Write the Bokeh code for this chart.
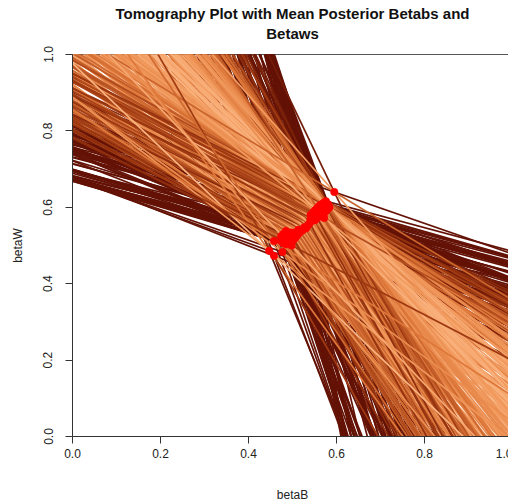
import numpy as np
from bokeh.plotting import figure
from bokeh.models import Range1d, FixedTicker, PrintfTickFormatter, ColumnDataSource, Title
from bokeh.embed import file_html
from bokeh.resources import INLINE

# Mean posterior (betaB, betaW) per precinct group (red points)
mean_b = [0.474, 0.474, 0.479, 0.479, 0.479, 0.485, 0.485, 0.485, 0.485, 0.491, 0.491, 0.491,
          0.497, 0.497, 0.497, 0.503, 0.503, 0.508,
          0.508, 0.513, 0.513, 0.518, 0.523, 0.527, 0.531, 0.535, 0.539,
          0.541, 0.541, 0.546, 0.546, 0.551, 0.551, 0.551, 0.556, 0.556, 0.556, 0.561, 0.561, 0.561,
          0.566, 0.566, 0.566, 0.571, 0.571, 0.571, 0.576, 0.576, 0.576, 0.581, 0.581, 0.584, 0.572,
          0.595, 0.447, 0.458, 0.458, 0.477, 0.498]
mean_w = [0.512, 0.524, 0.506, 0.518, 0.530, 0.503, 0.515, 0.527, 0.538, 0.506, 0.518, 0.530,
          0.510, 0.522, 0.534, 0.516, 0.528, 0.522,
          0.534, 0.530, 0.541, 0.536, 0.540, 0.548, 0.545, 0.553, 0.558,
          0.568, 0.580, 0.574, 0.586, 0.566, 0.580, 0.592, 0.572, 0.586, 0.598, 0.576, 0.590, 0.604,
          0.580, 0.594, 0.608, 0.584, 0.598, 0.612, 0.590, 0.604, 0.616, 0.596, 0.608, 0.600, 0.572,
          0.640, 0.486, 0.473, 0.512, 0.483, 0.500]

# Slopes of the tomography lines passing through each mean point
line_slopes = [
    [-0.33, -0.48, -0.62, -0.85, -1.05, -1.3, -1.6, -2.1, -3.2],
    [-0.31, -0.52, -0.7, -0.9, -1.12, -1.4, -1.75, -2.4, -3.5],
    [-0.34, -0.45, -0.66, -0.8, -1.0, -1.25, -1.55, -2.2, -3.0],
    [-0.32, -0.55, -0.74, -0.95, -1.18, -1.45, -1.8, -2.6, -3.6],
    [-0.30, -0.5, -0.6, -0.88, -1.08, -1.35, -1.65, -2.0, -3.3],
    [-0.36, -0.58, -0.72, -0.92, -1.14, -1.5, -1.7, -2.3, -2.9],
    [-0.33, -0.46, -0.68, -0.84, -1.02, -1.28, -1.58, -2.5, -3.7],
    [-0.31, -0.53, -0.64, -0.98, -1.2, -1.42, -1.85, -2.15, -3.4],
    [-0.30, -0.44, -0.76, -0.86, -1.1, -1.32, -1.62, -2.7, -3.8],
    [-0.35, -0.56, -0.7, -0.94, -1.16, -1.38, -1.72, -2.05, -3.1],
    [-0.32, -0.49, -0.63, -0.82, -1.04, -1.26, -1.52, -2.35, -3.9],
    [-0.34, -0.6, -0.78, -0.96, -1.22, -1.48, -1.9, -2.8, -3.5],
    [-0.37, -0.47, -0.65, -0.87, -1.06, -1.34, -1.68, -2.2, -4.0],
    [-0.31, -0.54, -0.72, -0.9, -1.13, -1.44, -1.78, -2.45, -3.3],
    [-0.33, -0.43, -0.67, -0.83, -1.0, -1.3, -1.6, -2.9, -4.2],
    [-0.36, -0.57, -0.75, -0.97, -1.19, -1.46, -1.82, -2.1, -4.4],
    [-0.32, -0.51, -0.61, -0.89, -1.09, -1.36, -1.66, -2.6, -3.7],
    [-0.35, -0.46, -0.69, -0.85, -1.11, -1.4, -1.74, -2.3, -4.6],
    [-0.29, -0.47, -0.64, -0.86, -1.07, -1.33, -1.64, -2.5, -5.0],
    [-0.33, -0.55, -0.71, -0.93, -1.15, -1.42, -1.76, -3.0, -4.8],
    [-0.27, -0.42, -0.66, -0.81, -1.03, -1.27, -1.56, -2.2, -5.4],
    [-0.31, -0.52, -0.73, -0.91, -1.17, -1.45, -1.8, -3.3, -5.8],
    [-0.35, -0.48, -0.62, -0.87, -1.05, -1.31, -1.7, -2.7, -6.0],
    [-0.28, -0.56, -0.68, -0.95, -1.21, -1.5, -1.86, -2.4, -5.2],
    [-0.32, -0.44, -0.77, -0.84, -1.1, -1.37, -1.63, -3.6, -6.2],
    [-0.30, -0.5, -0.63, -0.92, -1.14, -1.43, -1.77, -2.9, -5.6],
    [-0.34, -0.59, -0.7, -0.88, -1.06, -1.29, -1.59, -2.1, -4.9],
    [-0.30, -0.46, -0.62, -0.84, -1.04, -1.3, -1.6, -2.3, -4.4],
    [-0.28, -0.53, -0.7, -0.9, -1.12, -1.4, -1.72, -2.6, -4.0],
    [-0.32, -0.44, -0.66, -0.8, -1.0, -1.24, -1.55, -2.0, -4.2],
    [-0.29, -0.56, -0.74, -0.95, -1.18, -1.46, -1.84, -2.8, -3.9],
    [-0.34, -0.5, -0.6, -0.87, -1.08, -1.35, -1.66, -2.2, -4.3],
    [-0.31, -0.45, -0.72, -0.92, -1.14, -1.5, -1.7, -2.5, -3.8],
    [-0.30, -0.58, -0.68, -0.84, -1.02, -1.28, -1.58, -3.0, -3.7],
    [-0.36, -0.48, -0.64, -0.98, -1.2, -1.42, -1.85, -2.1, -4.1],
    [-0.32, -0.54, -0.76, -0.86, -1.1, -1.32, -1.62, -2.7, -3.6],
    [-0.30, -0.43, -0.7, -0.94, -1.16, -1.38, -1.73, -2.3, -3.5],
    [-0.38, -0.6, -0.63, -0.82, -1.04, -1.26, -1.52, -2.9, -3.8],
    [-0.33, -0.47, -0.78, -0.96, -1.22, -1.48, -1.9, -2.4, -3.6],
    [-0.31, -0.55, -0.65, -0.87, -1.06, -1.34, -1.68, -2.15, -3.4],
    [-0.40, -0.52, -0.72, -0.9, -1.13, -1.44, -1.78, -2.6, -3.7],
    [-0.34, -0.44, -0.67, -0.83, -1.0, -1.3, -1.6, -2.0, -3.5],
    [-0.32, -0.57, -0.75, -0.97, -1.19, -1.46, -1.82, -2.8, -3.3],
    [-0.37, -0.49, -0.61, -0.89, -1.09, -1.36, -1.66, -2.3, -3.6],
    [-0.35, -0.6, -0.69, -0.85, -1.11, -1.4, -1.74, -2.5, -3.4],
    [-0.33, -0.46, -0.73, -0.93, -1.15, -1.43, -1.76, -2.2, -3.2],
    [-0.42, -0.54, -0.66, -0.88, -1.07, -1.29, -1.57, -2.7, -3.5],
    [-0.36, -0.47, -0.71, -0.91, -1.17, -1.45, -1.8, -2.1, -3.3],
    [-0.31, -0.58, -0.64, -0.86, -1.03, -1.33, -1.64, -2.4, -3.1],
    [-0.44, -0.5, -0.77, -0.95, -1.21, -1.47, -1.87, -2.6, -3.2],
    [-0.38, -0.55, -0.68, -0.84, -1.05, -1.31, -1.61, -2.0, -3.0],
    [-0.46, -0.6, -0.73, -0.9, -1.12, -1.39, -1.7, -2.3, -3.1],
    [-0.39, -0.51, -0.65, -0.92, -1.14, -1.41, -1.75, -2.5, -3.7],
    [-0.40, -0.7, -1.3, -2.4],
    [-0.42, -0.9, -1.6, -2.8],
    [-0.45, -1.1, -2.0, -3.0],
    [-0.36, -0.75, -1.4, -3.2],
    [-0.40, -0.85, -1.7, -3.4],
    [-0.35, -0.6, -1.2, -2.6],
]

x_ticks = [0.0, 0.2, 0.4, 0.6, 0.8, 1.0]
y_ticks = [0.0, 0.2, 0.4, 0.6, 0.8, 1.0]
title_lines = ["Tomography Plot with Mean Posterior Betabs and", "Betaws"]

# ---- colour ramp (dark maroon -> light orange) ----
stops = np.array([0.0, 0.3, 0.55, 0.8, 1.0])
stop_rgb = np.array([[100, 18, 6], [160, 58, 18], [222, 120, 58], [242, 155, 95], [250, 180, 128]],
                    dtype=float)


def ramp(t):
    return "#%02x%02x%02x" % tuple(int(round(np.interp(t, stops, stop_rgb[:, k]))) for k in range(3))


recs = []
for b, w, row in zip(mean_b, mean_w, line_slopes):
    for s in row:
        xa, xb = -0.1, 1.1
        shade = float(np.clip(1.0 - abs(np.log(abs(s) / 1.1)) / 0.85, 0.0, 1.0))
        recs.append((shade, [xa, xb], [w + s * (xa - b), w + s * (xb - b)]))
# darkest lines underneath, the rest in their own order
recs = [r for r in recs if r[0] < 0.2] + [r for r in recs if r[0] >= 0.2]
xs = [r[1] for r in recs]
ys = [r[2] for r in recs]
cols = [ramp(r[0]) for r in recs]

FONT = "Liberation Sans"

p = figure(width=512, height=504, output_backend="svg", toolbar_location=None,
           x_range=Range1d(0, 1), y_range=Range1d(0, 1),
           min_border_left=72, min_border_right=0, min_border_top=54, min_border_bottom=67,
           title=title_lines[0])
p.title.align = "center"
p.title.text_font_size = "15px"
p.title.text_font_style = "bold"
p.title.text_font = FONT
p.title.text_color = "#111111"
p.title.standoff = -24
p.add_layout(Title(text=title_lines[1], align="center", standoff=26,
                   text_font_size="15px", text_font_style="bold", text_font=FONT,
                   text_color="#111111"), "above")

p.background_fill_color = "white"
p.border_fill_color = "white"
p.outline_line_color = "#555555"
p.outline_line_width = 1
p.xgrid.visible = False
p.ygrid.visible = False

src = ColumnDataSource(dict(xs=xs, ys=ys, color=cols))
p.multi_line("xs", "ys", source=src, line_color="color", line_width=1.7)

p.scatter(mean_b, mean_w, size=7.5, fill_color="#ff0000", line_color="#ff0000", line_width=0.5)

for ax, ticks in ((p.xaxis[0], x_ticks), (p.yaxis[0], y_ticks)):
    ax.ticker = FixedTicker(ticks=ticks)
    ax.formatter = PrintfTickFormatter(format="%.1f")
    ax.major_tick_out = 7
    ax.major_tick_in = 0
    ax.minor_tick_out = 0
    ax.minor_tick_in = 0
    ax.axis_line_color = "#333333"
    ax.major_tick_line_color = "#333333"
    ax.major_label_text_font = FONT
    ax.major_label_text_font_size = "12px"
    ax.major_label_text_color = "#222222"
    ax.axis_label_text_font = FONT
    ax.axis_label_text_font_size = "12px"
    ax.axis_label_text_font_style = "normal"
    ax.axis_label_text_color = "#222222"

p.xaxis.axis_label = "betaB"
p.yaxis.axis_label = "betaW"
p.xaxis.major_label_standoff = 5
p.xaxis.axis_label_standoff = 27
p.yaxis.major_label_orientation = "vertical"
p.yaxis.major_label_standoff = 13
p.yaxis.axis_label_standoff = 16

open("out.html", "w").write(file_html(p, INLINE))
